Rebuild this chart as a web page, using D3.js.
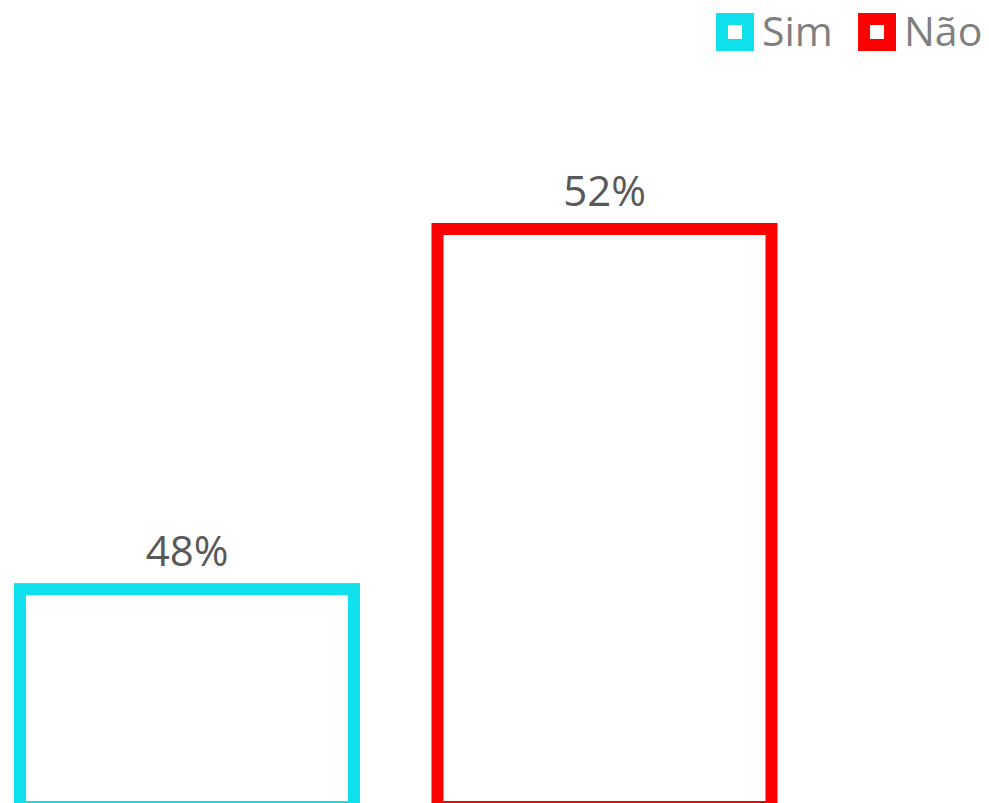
<!DOCTYPE html>
<html lang="pt">
<head>
  <meta charset="UTF-8">
  <title>Sim / Não</title>
  <script src="https://d3js.org/d3.v7.min.js"></script>
  <style>
    body { margin: 0; background: #fff; }
    svg { display: block; }
    text { font-family: "Open Sans", sans-serif; }
  </style>
</head>
<body>
  <svg width="989" height="803"></svg>

  <script>
    const categories = ["Sim", "Não"];
    const values = [48, 52];
    const colors = ["#10e0ec", "#ff0000"];
    const baseValue = 45.58;

    const svg = d3.select("svg");

    const x = d3.scaleBand()
      .domain(categories)
      .range([20, 771.5])
      .paddingInner(0.2)
      .paddingOuter(0);

    const y = d3.scaleLinear()
      .domain([baseValue, 52])
      .range([807, 229]);

    const color = d3.scaleOrdinal().domain(categories).range(colors);

    const data = categories.map((c, i) => ({ cat: c, val: values[i] }));

    // barras vazadas (só contorno)
    svg.append("g")
      .selectAll("rect")
      .data(data)
      .join("rect")
      .attr("x", d => x(d.cat))
      .attr("y", d => y(d.val))
      .attr("width", x.bandwidth())
      .attr("height", d => y(baseValue) - y(d.val))
      .attr("fill", "#fff")
      .attr("stroke", d => color(d.cat))
      .attr("stroke-width", 12);

    svg.append("g")
      .selectAll("text")
      .data(data)
      .join("text")
      .attr("x", d => x(d.cat) + x.bandwidth() / 2)
      .attr("y", d => y(d.val) - 23)
      .attr("text-anchor", "middle")
      .attr("font-size", 42)
      .attr("fill", "#595959")
      .text(d => d.val + "%");

    // legenda
    const legendX = [722, 864];
    const legend = svg.append("g")
      .selectAll("g")
      .data(categories)
      .join("g")
      .attr("transform", (d, i) => `translate(${legendX[i]},19)`);

    legend.append("rect")
      .attr("width", 26)
      .attr("height", 26)
      .attr("fill", "#fff")
      .attr("stroke", d => color(d))
      .attr("stroke-width", 12);

    legend.append("text")
      .attr("x", 40)
      .attr("y", 27)
      .attr("font-size", 41)
      .attr("fill", "#7f7f7f")
      .text(d => d);
  </script>
</body>
</html>
